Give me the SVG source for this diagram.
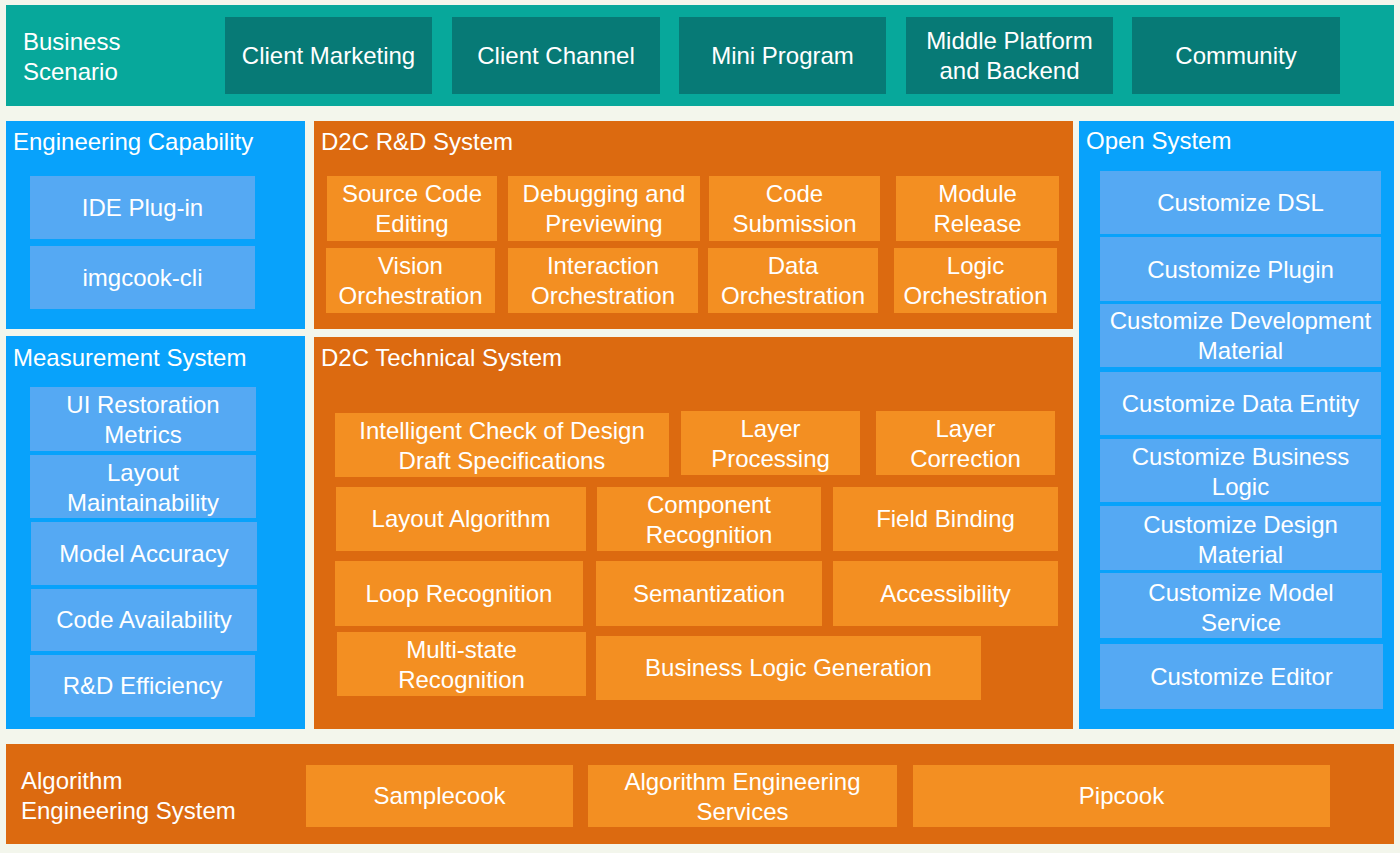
<svg xmlns="http://www.w3.org/2000/svg" width="1400" height="853" viewBox="0 0 1400 853">
<style>
text{font-family:"Liberation Sans",Arial,sans-serif;font-size:24px;fill:#ffffff}
.c{text-anchor:middle}
.teal{fill:#07a89b}
.dteal{fill:#077a76}
.blue{fill:#08a2fb}
.lblue{fill:#55a9f3}
.dor{fill:#dc6a10}
.lor{fill:#f38f22}
</style>
<rect x="0" y="0" width="1400" height="853" fill="#f3f6ec"/>

<g id="business-scenario">
<rect class="teal" x="6" y="5" width="1388" height="101"/>
<text x="23" y="50">Business</text>
<text x="23" y="80">Scenario</text>
</g>
<g id="client-marketing"><rect class="dteal" x="225" y="17" width="207" height="77"/><text class="c" x="328.5" y="64">Client Marketing</text></g>
<g id="client-channel"><rect class="dteal" x="452" y="17" width="208" height="77"/><text class="c" x="556" y="64">Client Channel</text></g>
<g id="mini-program"><rect class="dteal" x="679" y="17" width="207" height="77"/><text class="c" x="782.5" y="64">Mini Program</text></g>
<g id="middle-platform"><rect class="dteal" x="906" y="17" width="207" height="77"/><text class="c" x="1009.5" y="49">Middle Platform</text><text class="c" x="1009.5" y="79">and Backend</text></g>
<g id="community"><rect class="dteal" x="1132" y="17" width="208" height="77"/><text class="c" x="1236" y="64">Community</text></g>

<g id="engineering-capability">
<rect class="blue" x="6" y="121" width="299" height="208"/>
<text x="13" y="150">Engineering Capability</text>
</g>
<g id="ide-plugin"><rect class="lblue" x="30" y="176" width="225" height="63"/><text class="c" x="142.5" y="216">IDE Plug-in</text></g>
<g id="imgcook-cli"><rect class="lblue" x="30" y="246" width="225" height="63"/><text class="c" x="142.5" y="286">imgcook-cli</text></g>

<g id="measurement-system">
<rect class="blue" x="6" y="336" width="299" height="393"/>
<text x="13" y="366">Measurement System</text>
</g>
<g id="ui-restoration"><rect class="lblue" x="30" y="387" width="226" height="64"/><text class="c" x="143" y="413">UI Restoration</text><text class="c" x="143" y="443">Metrics</text></g>
<g id="layout-maintainability"><rect class="lblue" x="30" y="455" width="226" height="63"/><text class="c" x="143" y="481">Layout</text><text class="c" x="143" y="511">Maintainability</text></g>
<g id="model-accuracy"><rect class="lblue" x="31" y="522" width="226" height="63"/><text class="c" x="144" y="562">Model Accuracy</text></g>
<g id="code-availability"><rect class="lblue" x="31" y="589" width="226" height="62"/><text class="c" x="144" y="628">Code Availability</text></g>
<g id="rd-efficiency"><rect class="lblue" x="30" y="655" width="225" height="62"/><text class="c" x="142.5" y="694">R&amp;D Efficiency</text></g>

<g id="d2c-rd-system">
<rect class="dor" x="314" y="121" width="759" height="208"/>
<text x="321" y="150">D2C R&amp;D System</text>
</g>
<g id="source-code-editing"><rect class="lor" x="327" y="176" width="170" height="65"/><text class="c" x="412" y="202">Source Code</text><text class="c" x="412" y="232">Editing</text></g>
<g id="debugging-previewing"><rect class="lor" x="508" y="176" width="192" height="65"/><text class="c" x="604" y="202">Debugging and</text><text class="c" x="604" y="232">Previewing</text></g>
<g id="code-submission"><rect class="lor" x="709" y="176" width="171" height="65"/><text class="c" x="794.5" y="202">Code</text><text class="c" x="794.5" y="232">Submission</text></g>
<g id="module-release"><rect class="lor" x="896" y="176" width="163" height="65"/><text class="c" x="977.5" y="202">Module</text><text class="c" x="977.5" y="232">Release</text></g>
<g id="vision-orchestration"><rect class="lor" x="326" y="248" width="169" height="65"/><text class="c" x="410.5" y="274">Vision</text><text class="c" x="410.5" y="304">Orchestration</text></g>
<g id="interaction-orchestration"><rect class="lor" x="508" y="248" width="190" height="65"/><text class="c" x="603" y="274">Interaction</text><text class="c" x="603" y="304">Orchestration</text></g>
<g id="data-orchestration"><rect class="lor" x="708" y="248" width="170" height="65"/><text class="c" x="793" y="274">Data</text><text class="c" x="793" y="304">Orchestration</text></g>
<g id="logic-orchestration"><rect class="lor" x="894" y="248" width="163" height="65"/><text class="c" x="975.5" y="274">Logic</text><text class="c" x="975.5" y="304">Orchestration</text></g>

<g id="d2c-technical-system">
<rect class="dor" x="314" y="337" width="759" height="392"/>
<text x="321" y="366">D2C Technical System</text>
</g>
<g id="intelligent-check"><rect class="lor" x="335" y="413" width="334" height="64"/><text class="c" x="502" y="439">Intelligent Check of Design</text><text class="c" x="502" y="469">Draft Specifications</text></g>
<g id="layer-processing"><rect class="lor" x="681" y="411" width="179" height="64"/><text class="c" x="770.5" y="437">Layer</text><text class="c" x="770.5" y="467">Processing</text></g>
<g id="layer-correction"><rect class="lor" x="876" y="411" width="179" height="64"/><text class="c" x="965.5" y="437">Layer</text><text class="c" x="965.5" y="467">Correction</text></g>
<g id="layout-algorithm"><rect class="lor" x="336" y="487" width="250" height="64"/><text class="c" x="461" y="527">Layout Algorithm</text></g>
<g id="component-recognition"><rect class="lor" x="597" y="487" width="224" height="64"/><text class="c" x="709" y="513">Component</text><text class="c" x="709" y="543">Recognition</text></g>
<g id="field-binding"><rect class="lor" x="833" y="487" width="225" height="64"/><text class="c" x="945.5" y="527">Field Binding</text></g>
<g id="loop-recognition"><rect class="lor" x="335" y="561" width="248" height="65"/><text class="c" x="459" y="602">Loop Recognition</text></g>
<g id="semantization"><rect class="lor" x="596" y="561" width="226" height="65"/><text class="c" x="709" y="602">Semantization</text></g>
<g id="accessibility"><rect class="lor" x="833" y="561" width="225" height="65"/><text class="c" x="945.5" y="602">Accessibility</text></g>
<g id="multi-state-recognition"><rect class="lor" x="337" y="632" width="249" height="64"/><text class="c" x="461.5" y="658">Multi-state</text><text class="c" x="461.5" y="688">Recognition</text></g>
<g id="business-logic-generation"><rect class="lor" x="596" y="636" width="385" height="64"/><text class="c" x="788.5" y="676">Business Logic Generation</text></g>

<g id="open-system">
<rect class="blue" x="1079" y="121" width="315" height="608"/>
<text x="1086" y="149">Open System</text>
</g>
<g id="customize-dsl"><rect class="lblue" x="1100" y="171" width="281" height="63"/><text class="c" x="1240.5" y="211">Customize DSL</text></g>
<g id="customize-plugin"><rect class="lblue" x="1100" y="237" width="281" height="64"/><text class="c" x="1240.5" y="278">Customize Plugin</text></g>
<g id="customize-development-material"><rect class="lblue" x="1100" y="304" width="281" height="63"/><text class="c" x="1240.5" y="329">Customize Development</text><text class="c" x="1240.5" y="359">Material</text></g>
<g id="customize-data-entity"><rect class="lblue" x="1100" y="372" width="281" height="63"/><text class="c" x="1240.5" y="412">Customize Data Entity</text></g>
<g id="customize-business-logic"><rect class="lblue" x="1100" y="439" width="281" height="63"/><text class="c" x="1240.5" y="465">Customize Business</text><text class="c" x="1240.5" y="495">Logic</text></g>
<g id="customize-design-material"><rect class="lblue" x="1100" y="506" width="281" height="64"/><text class="c" x="1240.5" y="533">Customize Design</text><text class="c" x="1240.5" y="563">Material</text></g>
<g id="customize-model-service"><rect class="lblue" x="1100" y="573" width="282" height="65"/><text class="c" x="1241" y="601">Customize Model</text><text class="c" x="1241" y="631">Service</text></g>
<g id="customize-editor"><rect class="lblue" x="1100" y="644" width="283" height="65"/><text class="c" x="1241.5" y="685">Customize Editor</text></g>

<g id="algorithm-engineering-system">
<rect class="dor" x="6" y="744" width="1388" height="100"/>
<text x="21" y="789">Algorithm</text>
<text x="21" y="819">Engineering System</text>
</g>
<g id="samplecook"><rect class="lor" x="306" y="765" width="267" height="62"/><text class="c" x="439.5" y="804">Samplecook</text></g>
<g id="algorithm-engineering-services"><rect class="lor" x="588" y="765" width="309" height="62"/><text class="c" x="742.5" y="790">Algorithm Engineering</text><text class="c" x="742.5" y="820">Services</text></g>
<g id="pipcook"><rect class="lor" x="913" y="765" width="417" height="62"/><text class="c" x="1121.5" y="804">Pipcook</text></g>

<g id="connectors"></g>
</svg>
